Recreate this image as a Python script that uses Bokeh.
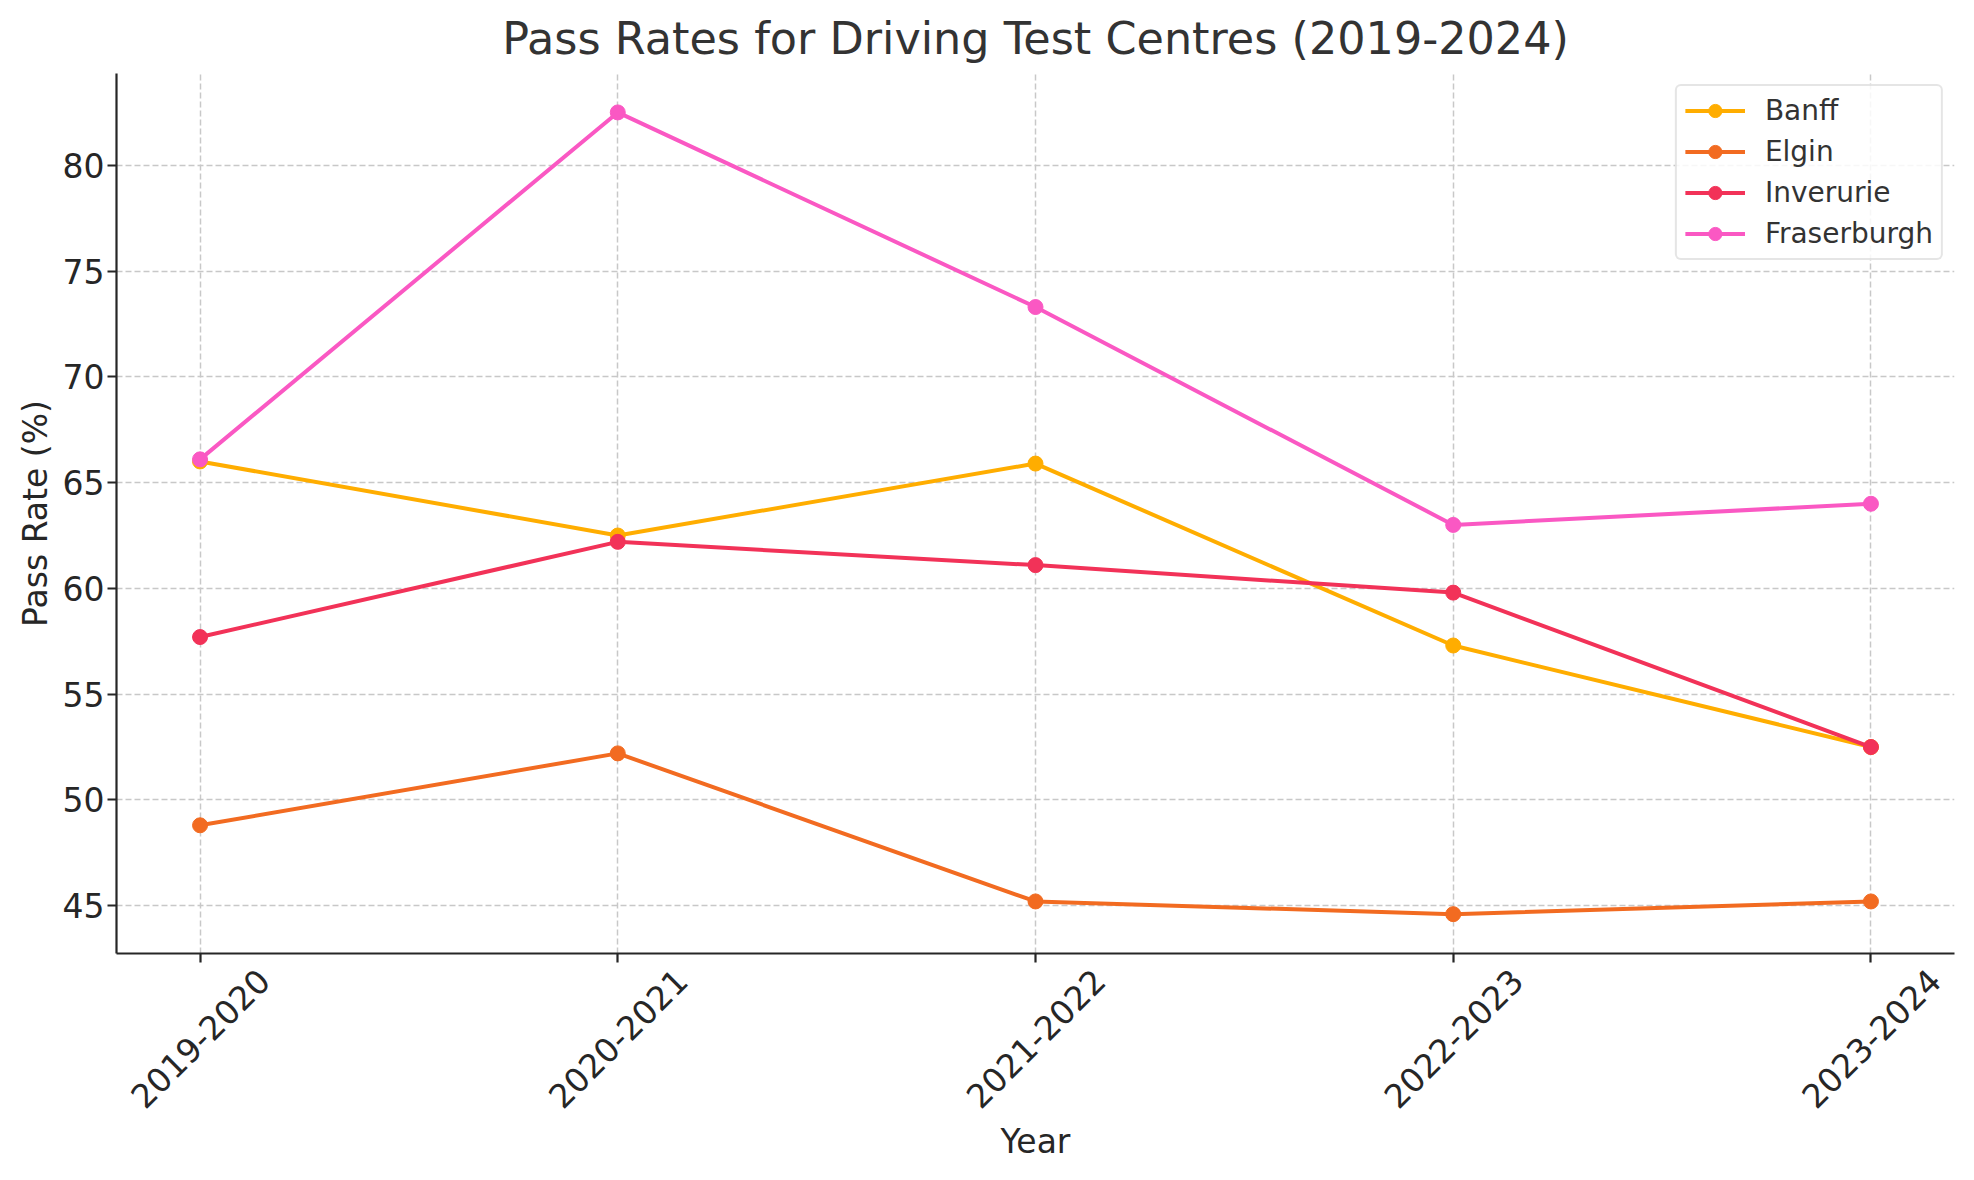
import math
from bokeh.plotting import figure
from bokeh.models import Range1d, FixedTicker, Legend, LegendItem, ColumnDataSource, LinearAxis
from bokeh.embed import file_html
from bokeh.resources import INLINE

years = ["2019-2020", "2020-2021", "2021-2022", "2022-2023", "2023-2024"]
banff = [66.0, 62.5, 65.9, 57.3, 52.5]
elgin = [48.8, 52.2, 45.2, 44.6, 45.2]
inverurie = [57.7, 62.2, 61.1, 59.8, 52.5]
fraserburgh = [66.1, 82.5, 73.3, 63.0, 64.0]
y_ticks = [45, 50, 55, 60, 65, 70, 75, 80]

series = [
    ("Banff", banff, "#FFAD00"),
    ("Elgin", elgin, "#F26B21"),
    ("Inverurie", inverurie, "#F23258"),
    ("Fraserburgh", fraserburgh, "#FA58C3"),
]

FONT = "DejaVu Sans"
TXT = "#262626"
TICK_FS = 33

W, H = 1974, 1180
BL, BR, BT, BB = 116, 20, 72, 227
Y0, Y1 = 42.74, 84.34
X0, X1 = -0.2, len(years) - 1 + 0.2

xs = list(range(len(years)))

p = figure(
    width=W, height=H,
    output_backend="svg", toolbar_location=None,
    x_range=Range1d(X0, X1),
    y_range=Range1d(Y0, Y1),
    min_border_left=BL, min_border_right=BR, min_border_top=BT, min_border_bottom=BB,
    title="Pass Rates for Driving Test Centres (2019-2024)",
)
p.outline_line_color = None
p.background_fill_color = "white"
p.border_fill_color = "white"

p.title.align = "center"
p.title.text_font = FONT
p.title.text_font_size = "44.5px"
p.title.text_font_style = "normal"
p.title.text_color = "#333333"
p.title.standoff = 20

# Rotated x tick labels are centred on their ticks (matplotlib style):
# Bokeh right-aligns rotated labels, so they are drawn by a second axis on a
# range shifted by half the label's horizontal extent.
label_len_px = TICK_FS * (8 * 0.636 + 0.361)
shift_px = label_len_px * math.cos(math.pi / 4) / 2
frame_w = W - BL - BR
shift = shift_px * (X1 - X0) / frame_w
p.extra_x_ranges = {"labels": Range1d(X0 - shift, X1 - shift)}

# axes
for ax in (p.xaxis[0], p.yaxis[0]):
    ax.axis_line_color = "#262626"
    ax.axis_line_width = 2.2
    ax.major_tick_line_color = "#262626"
    ax.major_tick_line_width = 2.2
    ax.major_tick_out = 9
    ax.major_tick_in = 0
    ax.minor_tick_line_color = None
    ax.major_label_text_font = FONT
    ax.major_label_text_font_size = f"{TICK_FS}px"
    ax.major_label_text_color = TXT
    ax.axis_label_text_font = FONT
    ax.axis_label_text_font_size = "33px"
    ax.axis_label_text_font_style = "normal"
    ax.axis_label_text_color = TXT

p.xaxis.ticker = FixedTicker(ticks=xs)
p.xaxis.major_label_overrides = {i: "" for i in xs}

lab_axis = LinearAxis(x_range_name="labels", ticker=FixedTicker(ticks=xs))
lab_axis.major_label_overrides = {i: yr for i, yr in zip(xs, years)}
lab_axis.major_label_orientation = math.pi / 4
lab_axis.major_label_standoff = 12
lab_axis.axis_line_color = None
lab_axis.major_tick_line_color = None
lab_axis.minor_tick_line_color = None
lab_axis.major_tick_out = 0
lab_axis.major_tick_in = 0
lab_axis.major_label_text_font = FONT
lab_axis.major_label_text_font_size = f"{TICK_FS}px"
lab_axis.major_label_text_color = TXT
lab_axis.axis_label = "Year"
lab_axis.axis_label_standoff = 0
lab_axis.axis_label_text_font = FONT
lab_axis.axis_label_text_font_size = "33px"
lab_axis.axis_label_text_font_style = "normal"
lab_axis.axis_label_text_color = TXT
p.add_layout(lab_axis, "below")

p.yaxis.ticker = FixedTicker(ticks=y_ticks)
p.yaxis.axis_label = "Pass Rate (%)"
p.yaxis.major_label_standoff = 3
p.yaxis.axis_label_standoff = 5

for g in (p.xgrid[0], p.ygrid[0]):
    g.grid_line_color = "#c8c8c8"
    g.grid_line_width = 1.5
    g.grid_line_dash = "6 3"
p.xgrid.ticker = FixedTicker(ticks=xs)
p.ygrid.ticker = FixedTicker(ticks=y_ticks)

items = []
for name, vals, color in series:
    src = ColumnDataSource(dict(x=xs, y=vals))
    r1 = p.line("x", "y", source=src, line_color=color, line_width=4)
    r2 = p.scatter("x", "y", source=src, size=15, fill_color=color, line_color=color)
    items.append(LegendItem(label=name, renderers=[r1, r2]))

legend = Legend(items=items, location="top_right")
legend.label_text_font = FONT
legend.label_text_font_size = "28px"
legend.label_text_color = "#333333"
legend.glyph_width = 60
legend.glyph_height = 33
legend.label_height = 33
legend.spacing = 8
legend.padding = 8
legend.margin = 11
legend.label_standoff = 20
legend.border_line_color = "#cccccc"
legend.border_line_width = 2
legend.border_radius = 6
legend.background_fill_color = "white"
legend.background_fill_alpha = 0.85
p.add_layout(legend, "center")

open("out.html", "w").write(file_html(p, INLINE))
